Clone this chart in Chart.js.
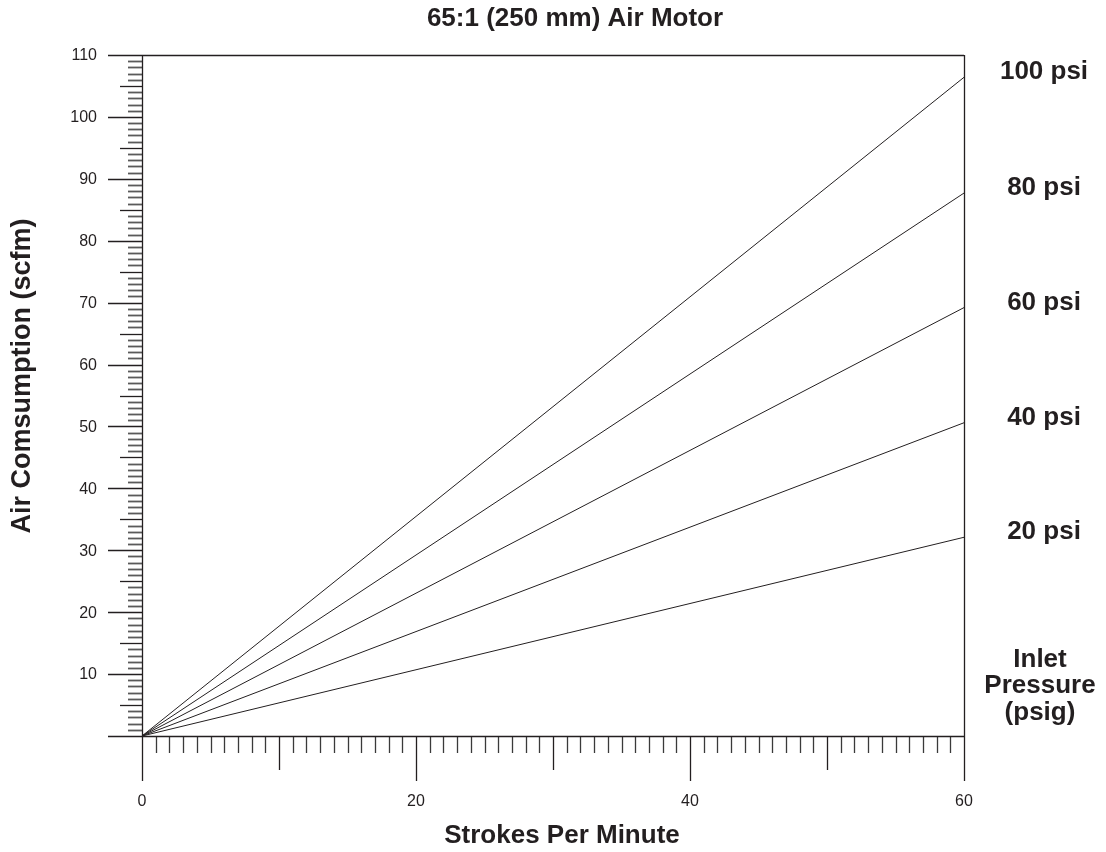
<!DOCTYPE html>
<html>
<head>
<meta charset="utf-8">
<script src="https://cdn.jsdelivr.net/npm/chart.js@4"></script>
<style>
  body { margin: 0; background: #fff; }
  #wrap { width: 1106px; height: 852px; }
</style>
</head>
<body>
<div id="wrap"><canvas id="airChart" width="1106" height="852"></canvas></div>
<script>
// strokes per minute at start and end of each line
const strokes = [0, 60];
// air consumption (scfm) for each inlet pressure
const psi20 = [0, 32.1];
const psi40 = [0, 50.6];
const psi60 = [0, 69.2];
const psi80 = [0, 87.7];
const psi100 = [0, 106.4];
const pressureLabels = ["20 psi", "40 psi", "60 psi", "80 psi", "100 psi"];
const yTickLabels = [10, 20, 30, 40, 50, 60, 70, 80, 90, 100, 110];
const xTickLabels = [0, 20, 40, 60];

const ink = "#231f20";
const series = [psi20, psi40, psi60, psi80, psi100];

const datasets = series.map((vals, i) => ({
  label: pressureLabels[i],
  data: strokes.map((s, j) => ({ x: s, y: vals[j] })),
  showLine: true,
  borderColor: ink,
  borderWidth: 1,
  pointRadius: 0,
  fill: false,
  clip: false
}));

const axesPlugin = {
  id: "axesPlugin",
  afterDraw(chart) {
    const ctx = chart.ctx;
    const x = chart.scales.x, y = chart.scales.y;
    const left = x.getPixelForValue(0), right = x.getPixelForValue(60);
    const top = y.getPixelForValue(110), bottom = y.getPixelForValue(0);
    ctx.save();

    // y ticks
    for (let v = 0; v <= 110; v++) {
      const py = Math.round(y.getPixelForValue(v)) + 0.5;
      let len = 14;
      ctx.strokeStyle = "#5a5a5a";
      ctx.lineWidth = 1.8;
      if (v % 10 === 0) { len = 34; ctx.strokeStyle = ink; ctx.lineWidth = 1.3; }
      else if (v % 5 === 0) { len = 22; ctx.strokeStyle = ink; ctx.lineWidth = 1.3; }
      ctx.beginPath();
      ctx.moveTo(left, py);
      ctx.lineTo(left - len, py);
      ctx.stroke();
    }

    // x ticks
    for (let v = 0; v <= 60; v++) {
      const px = Math.round(x.getPixelForValue(v)) + 0.5;
      let len = 17;
      if (v % 20 === 0) len = 45;
      else if (v % 10 === 0) len = 34;
      ctx.strokeStyle = v % 10 === 0 ? ink : "#3a3a3a";
      ctx.lineWidth = 1.3;
      ctx.beginPath();
      ctx.moveTo(px, bottom);
      ctx.lineTo(px, bottom + len);
      ctx.stroke();
    }

    // frame
    ctx.strokeStyle = ink;
    ctx.lineWidth = 1.3;
    ctx.beginPath();
    ctx.moveTo(left + 0.5, top);
    ctx.lineTo(left + 0.5, bottom);
    ctx.moveTo(right + 0.5, top);
    ctx.lineTo(right + 0.5, bottom);
    ctx.moveTo(left, top + 0.5);
    ctx.lineTo(right, top + 0.5);
    ctx.moveTo(left, bottom + 0.5);
    ctx.lineTo(right, bottom + 0.5);
    ctx.stroke();

    ctx.fillStyle = ink;
    // tick labels
    ctx.font = "16px 'Liberation Sans', Arial, sans-serif";
    ctx.textAlign = "right";
    ctx.textBaseline = "middle";
    yTickLabels.forEach(v => ctx.fillText(String(v), left - 45, y.getPixelForValue(v) + 1));
    ctx.textAlign = "center";
    ctx.textBaseline = "alphabetic";
    xTickLabels.forEach(v => ctx.fillText(String(v), x.getPixelForValue(v), 806));

    // titles
    ctx.font = "bold 26px 'Liberation Sans', Arial, sans-serif";
    ctx.fillText("65:1 (250 mm) Air Motor", 575, 26);
    ctx.fillText("Strokes Per Minute", 562, 843);
    ctx.save();
    ctx.font = "bold 27px 'Liberation Sans', Arial, sans-serif";
    ctx.translate(30, 376);
    ctx.rotate(-Math.PI / 2);
    ctx.fillText("Air Comsumption (scfm)", 0, 0);
    ctx.restore();

    // pressure labels at line ends
    series.forEach((vals, i) => {
      const py = y.getPixelForValue(vals[vals.length - 1]);
      ctx.fillText(pressureLabels[i], 1044, py + 2);
    });
    ctx.fillText("Inlet", 1040, 667);
    ctx.fillText("Pressure", 1040, 693);
    ctx.fillText("(psig)", 1040, 720);
    ctx.restore();
  }
};

new Chart(document.getElementById("airChart"), {
  type: "scatter",
  data: { datasets: datasets },
  options: {
    responsive: false,
    animation: false,
    layout: { padding: { left: 142, right: 142, top: 55, bottom: 116 } },
    plugins: { legend: { display: false }, tooltip: { enabled: false } },
    scales: {
      x: { type: "linear", min: 0, max: 60, display: false },
      y: { type: "linear", min: 0, max: 110, display: false }
    }
  },
  plugins: [axesPlugin]
});
</script>
</body>
</html>
